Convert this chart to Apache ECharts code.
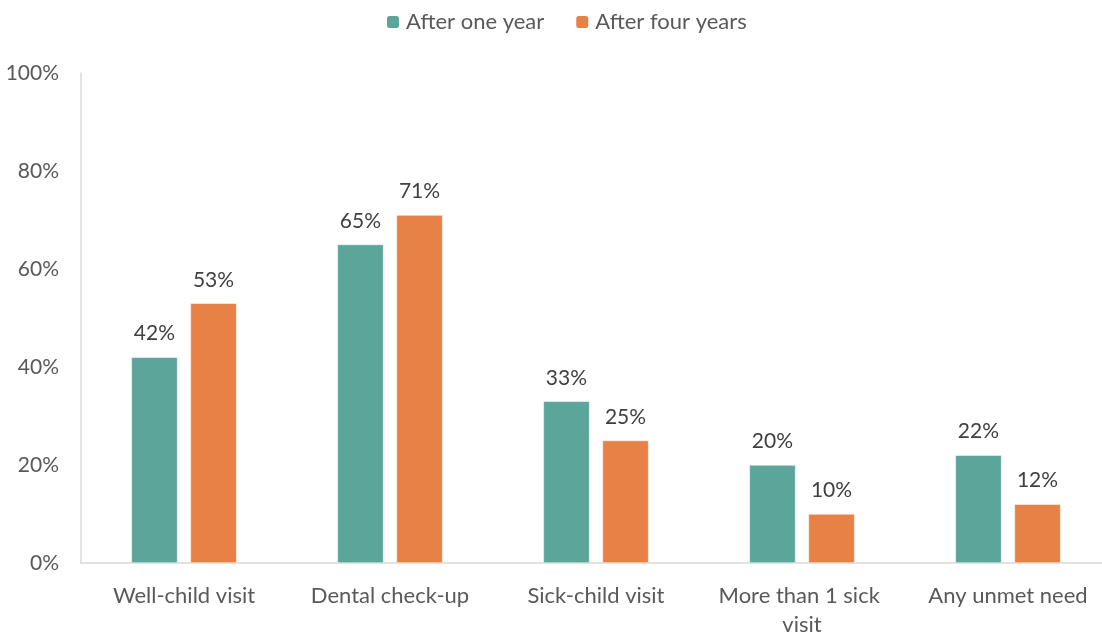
<!DOCTYPE html>
<html><head><meta charset="utf-8">
<script src="https://cdn.jsdelivr.net/npm/echarts@6/dist/echarts.min.js"></script>
<style>html,body{margin:0;padding:0;background:#fff;overflow:hidden}#c{width:1102px;height:635px}</style>
</head><body><div id="c"></div>
<script>
const categories = ["Well-child visit", "Dental check-up", "Sick-child visit", "More than 1 sick visit", "Any unmet need"];
const seriesNames = ["After one year", "After four years"];
const afterOneYear = [42, 65, 33, 20, 22];
const afterFourYears = [53, 71, 25, 10, 12];
const yTicks = [0, 20, 40, 60, 80, 100];

const FONT = "Lato, 'Open Sans', sans-serif";
const FS = 22;
const NFS = 21;
const chart = echarts.init(document.getElementById('c'), null, {renderer: 'canvas'});
const labelCfg = {show: true, position: 'top', distance: 13, formatter: p => p.value + '%', color: '#404040', fontSize: NFS, fontFamily: FONT};
chart.setOption({
  animation: false,
  color: ['#5BA59B', '#E78146'],
  legend: {
    top: 6, left: 380, itemWidth: 14, itemHeight: 14, itemGap: 30,
    textStyle: {color: '#595959', fontSize: FS, fontFamily: FONT, padding: [0, 0, 0, 1]},
    data: seriesNames
  },
  grid: {left: 81, right: -9, top: 73, bottom: 72, containLabel: false, outerBoundsMode: 'none'},
  xAxis: {
    type: 'category', data: categories,
    axisLine: {lineStyle: {color: '#D9D9D9', width: 1.5}},
    axisTick: {show: false},
    axisLabel: {color: '#595959', fontSize: FS, fontFamily: FONT, margin: 18, lineHeight: 29, width: 180, overflow: 'break', interval: 0}
  },
  yAxis: {
    type: 'value', min: 0, max: 100, interval: 20,
    axisLine: {show: true, lineStyle: {color: '#D9D9D9', width: 1.5}},
    splitLine: {show: false},
    axisTick: {show: false},
    axisLabel: {formatter: v => yTicks.includes(v) ? v + '%' : '', color: '#595959', fontSize: NFS, fontFamily: FONT, margin: 22}
  },
  series: [
    {name: seriesNames[0], type: 'bar', data: afterOneYear, barWidth: '22.4%', barGap: '28%', label: labelCfg, itemStyle: {borderColor: '#fff', borderWidth: 0.5}},
    {name: seriesNames[1], type: 'bar', data: afterFourYears, barWidth: '22.4%', barGap: '28%', label: labelCfg, itemStyle: {borderColor: '#fff', borderWidth: 0.5}}
  ]
});
</script></body></html>
